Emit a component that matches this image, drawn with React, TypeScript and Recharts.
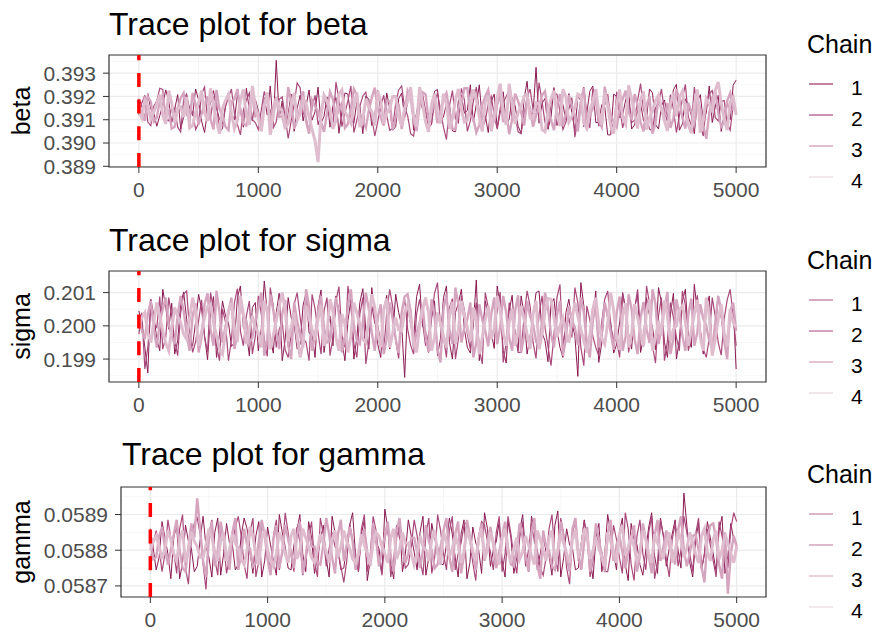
import {
  CartesianGrid,
  Line,
  LineChart,
  ReferenceArea,
  ReferenceLine,
  XAxis,
  YAxis,
} from "recharts";

// draws thinned to every 25th iteration, one array per chain
const iterStep = 25;

const xTicks = [0, 1000, 2000, 3000, 4000, 5000];
const xMinor = [500, 1500, 2500, 3500, 4500];
const chainNames = ["1", "2", "3", "4"];

const betaChain1 = [
  0.39190, 0.39160, 0.39105, 0.39212, 0.39145, 0.39130, 0.39072, 0.39118, 0.39165, 0.39228,
  0.39180, 0.39088, 0.39145, 0.39208, 0.39060, 0.39112, 0.39200, 0.39150, 0.39118, 0.39232,
  0.39185, 0.39095, 0.39045, 0.39138, 0.39170, 0.39225, 0.39150, 0.39102, 0.39082, 0.39155,
  0.39218, 0.39128, 0.39100, 0.39205, 0.39155, 0.39068, 0.39235, 0.39142, 0.39095, 0.39188,
  0.39140, 0.39058, 0.39195, 0.39120, 0.39245, 0.39075, 0.39355, 0.39110, 0.39180, 0.39062,
  0.39125, 0.39210, 0.39050, 0.39148, 0.39205, 0.39095, 0.39160, 0.39228, 0.39098, 0.39135,
  0.39240, 0.39085, 0.39115, 0.39198, 0.39068, 0.39160, 0.39195, 0.39042, 0.39135, 0.39215,
  0.39210, 0.39105, 0.39085, 0.39178, 0.39158, 0.39040, 0.39202, 0.39188, 0.39075, 0.39122,
  0.39225, 0.39140, 0.39092, 0.39215, 0.39148, 0.39055, 0.39070, 0.39190, 0.39215, 0.39108,
  0.39175, 0.39238, 0.39055, 0.39130, 0.39198, 0.39145, 0.39132, 0.39065, 0.39080, 0.39222,
  0.39230, 0.39095, 0.39112, 0.39170, 0.39168, 0.39052, 0.39048, 0.39182, 0.39205, 0.39128,
  0.39140, 0.39250, 0.39090, 0.39165, 0.39250, 0.39100, 0.39118, 0.39045, 0.39178, 0.39210,
  0.39065, 0.39150, 0.39220, 0.39082, 0.39102, 0.39195, 0.39160, 0.39072, 0.39042, 0.39188,
  0.39265, 0.39118, 0.39128, 0.39325, 0.39085, 0.39170, 0.39192, 0.39060, 0.39110, 0.39238,
  0.39075, 0.39145, 0.39165, 0.39098, 0.39212, 0.39130, 0.39052, 0.39200, 0.39182, 0.39070,
  0.39130, 0.39222, 0.39245, 0.39088, 0.39088, 0.39165, 0.39155, 0.39035, 0.39035, 0.39210,
  0.39200, 0.39108, 0.39120, 0.39185, 0.39228, 0.39060, 0.39078, 0.39140, 0.39170, 0.39095,
  0.39105, 0.39232, 0.39215, 0.39080, 0.39060, 0.39160, 0.39185, 0.39112, 0.39138, 0.39228,
  0.39252, 0.39055, 0.39082, 0.39190, 0.39162, 0.39118, 0.39040, 0.39175, 0.39208, 0.39092,
  0.39130, 0.39245, 0.39088, 0.39155, 0.39205, 0.39050, 0.39120, 0.39185, 0.39100, 0.39248,
  0.39270,
];
const betaChain2 = [
  0.39120, 0.39172, 0.39205, 0.39090, 0.39075, 0.39158, 0.39180, 0.39235, 0.39230, 0.39102,
  0.39095, 0.39148, 0.39150, 0.39068, 0.39048, 0.39188, 0.39210, 0.39125, 0.39135, 0.39058,
  0.39085, 0.39212, 0.39240, 0.39098, 0.39110, 0.39195, 0.39172, 0.39050, 0.39062, 0.39158,
  0.39195, 0.39232, 0.39128, 0.39080, 0.39035, 0.39140, 0.39185, 0.39215, 0.39100, 0.39088,
  0.39058, 0.39142, 0.39222, 0.39170, 0.39140, 0.39065, 0.39090, 0.39188, 0.39198, 0.39112,
  0.39020, 0.39095, 0.39165, 0.39258, 0.39238, 0.39130, 0.39108, 0.39045, 0.39152, 0.39205,
  0.39078, 0.39118, 0.39190, 0.39152, 0.39125, 0.39070, 0.39262, 0.39185, 0.39070, 0.39128,
  0.39182, 0.39245, 0.39045, 0.39098, 0.39158, 0.39202, 0.39218, 0.39140, 0.39112, 0.39030,
  0.39092, 0.39160, 0.39205, 0.39118, 0.39055, 0.39062, 0.39170, 0.39228, 0.39245, 0.39150,
  0.39118, 0.39040, 0.39030, 0.39122, 0.39188, 0.39210, 0.39138, 0.39100, 0.39082, 0.39172,
  0.39215, 0.39140, 0.39068, 0.39015, 0.39160, 0.39225, 0.39105, 0.39088, 0.39235, 0.39185,
  0.39050, 0.39095, 0.39178, 0.39240, 0.39132, 0.39065, 0.39095, 0.39168, 0.39202, 0.39118,
  0.39060, 0.39132, 0.39175, 0.39200, 0.39228, 0.39095, 0.39115, 0.39048, 0.39040, 0.39125,
  0.39195, 0.39232, 0.39145, 0.39110, 0.39260, 0.39180, 0.39088, 0.39062, 0.39168, 0.39215,
  0.39210, 0.39135, 0.39058, 0.39090, 0.39148, 0.39195, 0.39025, 0.39100, 0.39185, 0.39240,
  0.39122, 0.39065, 0.39232, 0.39178, 0.39072, 0.39110, 0.39165, 0.39210, 0.39105, 0.39045,
  0.39220, 0.39155, 0.39065, 0.39120, 0.39180, 0.39088, 0.39098, 0.39182, 0.39255, 0.39140,
  0.39115, 0.39060, 0.39052, 0.39150, 0.39175, 0.39232, 0.39135, 0.39092, 0.39208, 0.39145,
  0.39045, 0.39118, 0.39190, 0.39252, 0.39112, 0.39075, 0.39240, 0.39162, 0.39078, 0.39030,
  0.39158, 0.39212, 0.39225, 0.39110, 0.39095, 0.39178, 0.39182, 0.39085, 0.39055, 0.39160,
  0.39130,
];
const betaChain3 = [
  0.39160, 0.39128, 0.39095, 0.39200, 0.39178, 0.39092, 0.39110, 0.39182, 0.39205, 0.39120,
  0.39138, 0.39062, 0.39070, 0.39148, 0.39192, 0.39215, 0.39125, 0.39098, 0.39215, 0.39168,
  0.39080, 0.39125, 0.39165, 0.39200, 0.39102, 0.39058, 0.39228, 0.39145, 0.39118, 0.39070,
  0.39055, 0.39178, 0.39188, 0.39232, 0.39142, 0.39082, 0.39075, 0.39160, 0.39210, 0.39115,
  0.39128, 0.39052, 0.39168, 0.39205, 0.39088, 0.39140, 0.39198, 0.39112, 0.39115, 0.39060,
  0.39240, 0.39178, 0.39062, 0.39095, 0.39150, 0.39222, 0.39092, 0.39040, 0.39185, 0.39158,
  0.39135, 0.39090, 0.39048, 0.39130, 0.39220, 0.39188, 0.39108, 0.39145, 0.39172, 0.39065,
  0.39082, 0.39150, 0.39232, 0.39205, 0.39120, 0.39092, 0.39065, 0.39140, 0.39195, 0.39238,
  0.39145, 0.39108, 0.39075, 0.39180, 0.39180, 0.39058, 0.39112, 0.39168, 0.39060, 0.39130,
  0.39225, 0.39195, 0.39098, 0.39052, 0.39162, 0.39218, 0.39210, 0.39100, 0.39130, 0.39185,
  0.39085, 0.39140, 0.39190, 0.39215, 0.39140, 0.39062, 0.39058, 0.39152, 0.39170, 0.39235,
  0.39235, 0.39120, 0.39105, 0.39045, 0.39078, 0.39165, 0.39200, 0.39228, 0.39125, 0.39088,
  0.39165, 0.39210, 0.39090, 0.39135, 0.39038, 0.39102, 0.39212, 0.39180, 0.39132, 0.39075,
  0.39185, 0.39150, 0.39070, 0.39118, 0.39155, 0.39205, 0.39222, 0.39138, 0.39100, 0.39055,
  0.39158, 0.39210, 0.39072, 0.39128, 0.39205, 0.39160, 0.39118, 0.39050, 0.39178, 0.39235,
  0.39055, 0.39122, 0.39148, 0.39195, 0.39095, 0.39068, 0.39242, 0.39170, 0.39122, 0.39090,
  0.39068, 0.39150, 0.39188, 0.39225, 0.39135, 0.39098, 0.39210, 0.39162, 0.39088, 0.39050,
  0.39162, 0.39200, 0.39040, 0.39085, 0.39198, 0.39140, 0.39115, 0.39172, 0.39065, 0.39105,
  0.39230, 0.39188, 0.39108, 0.39062, 0.39172, 0.39135, 0.39080, 0.39192, 0.39145, 0.39075,
  0.39018, 0.39128, 0.39195, 0.39225, 0.39128, 0.39070, 0.39092, 0.39180, 0.39215, 0.39145,
  0.39150,
];
const betaChain4 = [
  0.39140, 0.39108, 0.39185, 0.39162, 0.39102, 0.39135, 0.39168, 0.39208, 0.39120, 0.39082,
  0.39225, 0.39172, 0.39088, 0.39150, 0.39155, 0.39110, 0.39198, 0.39065, 0.39075, 0.39132,
  0.39172, 0.39225, 0.39130, 0.39095, 0.39235, 0.39160, 0.39095, 0.39040, 0.39148, 0.39182,
  0.39208, 0.39128, 0.39062, 0.39098, 0.39182, 0.39230, 0.39115, 0.39078, 0.39245, 0.39160,
  0.39105, 0.39050, 0.39160, 0.39218, 0.39035, 0.39120, 0.39192, 0.39150, 0.39138, 0.39068,
  0.39082, 0.39165, 0.39215, 0.39100, 0.39125, 0.39190, 0.39170, 0.39112, 0.39058, 0.39010,
  0.38918, 0.39120, 0.39205, 0.39178, 0.39145, 0.39060, 0.39098, 0.39210, 0.39228, 0.39135,
  0.39110, 0.39085, 0.39162, 0.39218, 0.39068, 0.39102, 0.39190, 0.39155, 0.39135, 0.39075,
  0.39222, 0.39180, 0.39085, 0.39128, 0.39150, 0.39200, 0.39200, 0.39118, 0.39072, 0.39152,
  0.39178, 0.39240, 0.39118, 0.39070, 0.39240, 0.39170, 0.39092, 0.39048, 0.39165, 0.39212,
  0.39128, 0.39085, 0.39212, 0.39165, 0.39060, 0.39105, 0.39185, 0.39232, 0.39142, 0.39090,
  0.39098, 0.39160, 0.39230, 0.39188, 0.39112, 0.39050, 0.39175, 0.39205, 0.39050, 0.39120,
  0.39195, 0.39255, 0.39135, 0.39078, 0.39255, 0.39165, 0.39082, 0.39130, 0.39158, 0.39200,
  0.39210, 0.39108, 0.39105, 0.39172, 0.39168, 0.39058, 0.39048, 0.39138, 0.39188, 0.39225,
  0.39122, 0.39072, 0.39232, 0.39198, 0.39090, 0.39115, 0.39150, 0.39210, 0.39202, 0.39085,
  0.39065, 0.39142, 0.39178, 0.39232, 0.39132, 0.39080, 0.39218, 0.39160, 0.39075, 0.39040,
  0.39162, 0.39230, 0.39108, 0.39080, 0.39248, 0.39188, 0.39128, 0.39062, 0.39185, 0.39222,
  0.39058, 0.39110, 0.39140, 0.39182, 0.39205, 0.39148, 0.39095, 0.39052, 0.39170, 0.39215,
  0.39115, 0.39195, 0.39222, 0.39135, 0.39078, 0.39042, 0.39160, 0.39230, 0.39045, 0.39098,
  0.39190, 0.39165, 0.39138, 0.39225, 0.39262, 0.39172, 0.39100, 0.39055, 0.39175, 0.39198,
  0.39120,
];

const sigmaChain1 = [
  0.20045, 0.20010, 0.19935, 0.19858, 0.20080, 0.20032, 0.19960, 0.19925, 0.20110, 0.20055,
  0.19990, 0.20068, 0.19915, 0.19955, 0.20065, 0.20102, 0.20020, 0.19942, 0.19940, 0.20012,
  0.20095, 0.20050, 0.19970, 0.19898, 0.20035, 0.20088, 0.19905, 0.19975, 0.20075, 0.20030,
  0.20010, 0.19938, 0.19950, 0.20085, 0.20120, 0.19995, 0.19980, 0.19910, 0.20055, 0.20070,
  0.19925, 0.19992, 0.20135, 0.20040, 0.19965, 0.19918, 0.20040, 0.20098, 0.19895, 0.19960,
  0.20085, 0.20025, 0.20005, 0.19930, 0.19945, 0.20062, 0.20100, 0.19978, 0.19975, 0.19905,
  0.20060, 0.20108, 0.19920, 0.19985, 0.20030, 0.19940, 0.20090, 0.20045, 0.19955, 0.19895,
  0.20015, 0.20078, 0.19900, 0.19965, 0.20070, 0.20112, 0.19985, 0.19930, 0.20115, 0.20020,
  0.19945, 0.19905, 0.20050, 0.20092, 0.19930, 0.19972, 0.20095, 0.20040, 0.20000, 0.19845,
  0.20060, 0.20005, 0.19960, 0.20088, 0.20125, 0.19998, 0.19985, 0.19920, 0.20025, 0.20075,
  0.19910, 0.19962, 0.20085, 0.20120, 0.19950, 0.19900, 0.20040, 0.20068, 0.20110, 0.19990,
  0.19935, 0.19918, 0.20005, 0.20138, 0.19895, 0.19960, 0.20075, 0.20032, 0.19980, 0.19932,
  0.20120, 0.20058, 0.19925, 0.19888, 0.20045, 0.20092, 0.19965, 0.19925, 0.20090, 0.20035,
  0.19915, 0.19968, 0.20030, 0.20100, 0.20105, 0.19980, 0.19955, 0.19892, 0.20065, 0.20082,
  0.19990, 0.19935, 0.19905, 0.20040, 0.20080, 0.20010, 0.19970, 0.19848, 0.20130, 0.20060,
  0.19940, 0.19975, 0.20020, 0.20105, 0.19890, 0.19948, 0.20070, 0.20022, 0.20010, 0.19918,
  0.19945, 0.20012, 0.20100, 0.20052, 0.19975, 0.19930, 0.20055, 0.20095, 0.19920, 0.19965,
  0.20085, 0.20030, 0.19995, 0.19928, 0.20115, 0.20070, 0.19950, 0.19905, 0.20035, 0.20098,
  0.19900, 0.19958, 0.20075, 0.20110, 0.19965, 0.19935, 0.20125, 0.20042, 0.19985, 0.19915,
  0.20050, 0.20090, 0.19930, 0.19975, 0.20090, 0.20025, 0.19960, 0.19910, 0.20028, 0.20065,
  0.19870,
];
const sigmaChain2 = [
  0.19975, 0.20040, 0.19870, 0.19935, 0.20060, 0.20005, 0.19995, 0.20088, 0.19930, 0.19965,
  0.20085, 0.20030, 0.19955, 0.19910, 0.20040, 0.20095, 0.20105, 0.19985, 0.19920, 0.19952,
  0.20015, 0.20078, 0.19965, 0.19922, 0.20100, 0.20048, 0.19940, 0.19895, 0.20050, 0.20012,
  0.19895, 0.19958, 0.20070, 0.20112, 0.19985, 0.19940, 0.20030, 0.20075, 0.19915, 0.19968,
  0.20090, 0.20035, 0.19960, 0.19908, 0.20115, 0.20060, 0.19935, 0.19990, 0.20010, 0.19928,
  0.19905, 0.19975, 0.20065, 0.20100, 0.20025, 0.19962, 0.19950, 0.19895, 0.20095, 0.20052,
  0.19980, 0.19915, 0.20045, 0.20085, 0.19910, 0.19965, 0.20075, 0.20118, 0.19970, 0.19935,
  0.20120, 0.20060, 0.19945, 0.19905, 0.20035, 0.20085, 0.19885, 0.19950, 0.20060, 0.20008,
  0.20000, 0.19948, 0.19925, 0.20040, 0.20110, 0.20058, 0.19955, 0.19902, 0.20040, 0.20080,
  0.19990, 0.19942, 0.19915, 0.20035, 0.20080, 0.20012, 0.19940, 0.19975, 0.20020, 0.20098,
  0.20130, 0.19995, 0.19965, 0.19905, 0.20055, 0.20082, 0.19900, 0.19960, 0.20090, 0.20048,
  0.19975, 0.19930, 0.20015, 0.20070, 0.19930, 0.19885, 0.20100, 0.20055, 0.19960, 0.19995,
  0.20045, 0.20102, 0.19890, 0.19948, 0.20070, 0.20020, 0.19985, 0.19920, 0.19920, 0.20030,
  0.20105, 0.20060, 0.19950, 0.19902, 0.20035, 0.20090, 0.19995, 0.19938, 0.19880, 0.19972,
  0.20085, 0.20125, 0.19945, 0.19992, 0.20025, 0.19965, 0.20115, 0.20070, 0.19935, 0.19880,
  0.20060, 0.20018, 0.19970, 0.19935, 0.19910, 0.20012, 0.20080, 0.20105, 0.20000, 0.19958,
  0.19955, 0.19905, 0.20095, 0.20048, 0.19920, 0.19975, 0.20050, 0.20110, 0.19980, 0.19938,
  0.20120, 0.20068, 0.19940, 0.19888, 0.20030, 0.20085, 0.19895, 0.19955, 0.20070, 0.20025,
  0.19965, 0.19925, 0.20105, 0.20062, 0.19925, 0.19968, 0.20040, 0.20092, 0.19985, 0.19930,
  0.19905, 0.19962, 0.20085, 0.20028, 0.19950, 0.19912, 0.20020, 0.20078, 0.20110, 0.20030,
  0.19940,
];
const sigmaChain3 = [
  0.20020, 0.19985, 0.19960, 0.20035, 0.20075, 0.19990, 0.19935, 0.20010, 0.20050, 0.20085,
  0.20005, 0.19970, 0.19945, 0.20032, 0.20090, 0.20045, 0.19975, 0.19925, 0.20030, 0.20068,
  0.19920, 0.19965, 0.20065, 0.20098, 0.19990, 0.19940, 0.20105, 0.20040, 0.19950, 0.19998,
  0.20040, 0.20085, 0.19930, 0.19975, 0.20080, 0.20030, 0.20015, 0.19948, 0.19965, 0.20012,
  0.20055, 0.20100, 0.19910, 0.19960, 0.20095, 0.20048, 0.19985, 0.19930, 0.20035, 0.20078,
  0.19940, 0.19900, 0.20070, 0.20015, 0.19970, 0.19935, 0.20110, 0.20060, 0.19925, 0.19970,
  0.20045, 0.20090, 0.19995, 0.19950, 0.19955, 0.20025, 0.20085, 0.20035, 0.19920, 0.19968,
  0.20060, 0.20110, 0.20000, 0.19955, 0.19945, 0.20012, 0.20100, 0.20050, 0.19980, 0.19925,
  0.20025, 0.20065, 0.19915, 0.19962, 0.20070, 0.20020, 0.19960, 0.19918, 0.20040, 0.20088,
  0.20095, 0.20045, 0.19935, 0.19978, 0.20010, 0.20062, 0.19970, 0.19922, 0.20080, 0.20030,
  0.19930, 0.19890, 0.20050, 0.20095, 0.19990, 0.19945, 0.20115, 0.20065, 0.19950, 0.19995,
  0.20020, 0.20070, 0.19905, 0.19950, 0.20065, 0.20018, 0.19985, 0.19938, 0.20035, 0.20085,
  0.19945, 0.19998, 0.20090, 0.20040, 0.19965, 0.19925, 0.20045, 0.20092, 0.19920, 0.19970,
  0.20075, 0.20028, 0.20005, 0.19952, 0.19940, 0.20010, 0.20100, 0.20055, 0.19975, 0.19935,
  0.20030, 0.20075, 0.19910, 0.19960, 0.20060, 0.20018, 0.19995, 0.19942, 0.20085, 0.20040,
  0.19950, 0.19905, 0.20015, 0.20060, 0.19935, 0.19975, 0.20070, 0.20030, 0.19980, 0.19928,
  0.20040, 0.20088, 0.19925, 0.19968, 0.20095, 0.20050, 0.19960, 0.19915, 0.20025, 0.20072,
  0.19990, 0.19948, 0.20110, 0.20065, 0.19945, 0.19990, 0.20055, 0.20102, 0.19915, 0.19960,
  0.20080, 0.20035, 0.19970, 0.19925, 0.20035, 0.20082, 0.19940, 0.19980, 0.20065, 0.20022,
  0.20000, 0.19955, 0.19930, 0.20010, 0.20090, 0.20048, 0.19955, 0.19900, 0.20045, 0.20070,
  0.19985,
];
const sigmaChain4 = [
  0.19995, 0.20025, 0.20040, 0.19978, 0.19950, 0.20012, 0.20070, 0.20028, 0.19985, 0.19948,
  0.19925, 0.19990, 0.20055, 0.20030, 0.20010, 0.19975, 0.19960, 0.20022, 0.20085, 0.20040,
  0.19940, 0.19982, 0.20025, 0.20058, 0.20065, 0.20010, 0.19970, 0.19930, 0.19915, 0.19980,
  0.20045, 0.20068, 0.19995, 0.19952, 0.20090, 0.20035, 0.19945, 0.19988, 0.20030, 0.19995,
  0.19980, 0.19935, 0.20075, 0.20042, 0.19930, 0.19970, 0.20015, 0.20060, 0.20100, 0.20048,
  0.19955, 0.19995, 0.20040, 0.19968, 0.19905, 0.19948, 0.20060, 0.20025, 0.19990, 0.19958,
  0.20020, 0.20062, 0.19940, 0.19975, 0.20080, 0.20042, 0.19965, 0.19925, 0.20035, 0.20005,
  0.19920, 0.19968, 0.20070, 0.20038, 0.20005, 0.19960, 0.19950, 0.20020, 0.20095, 0.20055,
  0.19975, 0.19935, 0.20050, 0.20082, 0.19935, 0.19978, 0.20025, 0.19988, 0.19985, 0.20042,
  0.20065, 0.20018, 0.19955, 0.19920, 0.20000, 0.20048, 0.20085, 0.20040, 0.19925, 0.19965,
  0.20040, 0.20008, 0.19970, 0.19935, 0.20030, 0.20072, 0.19945, 0.19990, 0.20075, 0.20030,
  0.19995, 0.19955, 0.20055, 0.20010, 0.19915, 0.19965, 0.20020, 0.20060, 0.19960, 0.19990,
  0.20090, 0.20045, 0.19980, 0.19940, 0.20010, 0.20052, 0.19940, 0.19982, 0.20060, 0.20020,
  0.19975, 0.19930, 0.20035, 0.20075, 0.19930, 0.19972, 0.20045, 0.20082, 0.20080, 0.20025,
  0.19965, 0.20000, 0.20025, 0.19980, 0.19950, 0.20015, 0.20070, 0.20028, 0.19990, 0.19955,
  0.19920, 0.19972, 0.20050, 0.20085, 0.20005, 0.19962, 0.19945, 0.20008, 0.20100, 0.20045,
  0.19970, 0.19928, 0.20030, 0.20068, 0.19935, 0.19975, 0.20065, 0.20025, 0.19985, 0.19940,
  0.20045, 0.20078, 0.19925, 0.19965, 0.20015, 0.19970, 0.20075, 0.20030, 0.19955, 0.19990,
  0.20000, 0.20048, 0.20060, 0.20012, 0.19940, 0.19985, 0.20035, 0.20078, 0.19965, 0.19925,
  0.20085, 0.20032, 0.19910, 0.19958, 0.20020, 0.20065, 0.19980, 0.19938, 0.20050, 0.20010,
  0.19995,
];

const gammaChain1 = [
  0.058860, 0.058805, 0.058745, 0.058780, 0.058880, 0.058835, 0.058790, 0.058720, 0.058835, 0.058870,
  0.058720, 0.058765, 0.058870, 0.058825, 0.058805, 0.058740, 0.058755, 0.058830, 0.058895, 0.058810,
  0.058780, 0.058725, 0.058850, 0.058890, 0.058730, 0.058790, 0.058875, 0.058820, 0.058815, 0.058745,
  0.058760, 0.058840, 0.058890, 0.058860, 0.058795, 0.058735, 0.058840, 0.058880, 0.058725, 0.058770,
  0.058865, 0.058815, 0.058770, 0.058730, 0.058900, 0.058850, 0.058810, 0.058750, 0.058745, 0.058815,
  0.058855, 0.058900, 0.058790, 0.058740, 0.058880, 0.058835, 0.058735, 0.058780, 0.058830, 0.058870,
  0.058775, 0.058725, 0.058895, 0.058850, 0.058800, 0.058745, 0.058750, 0.058820, 0.058870, 0.058905,
  0.058785, 0.058740, 0.058845, 0.058885, 0.058715, 0.058770, 0.058860, 0.058820, 0.058805, 0.058735,
  0.058915, 0.058860, 0.058765, 0.058720, 0.058835, 0.058875, 0.058740, 0.058790, 0.058885, 0.058840,
  0.058795, 0.058745, 0.058850, 0.058895, 0.058730, 0.058780, 0.058875, 0.058830, 0.058810, 0.058760,
  0.058760, 0.058815, 0.058890, 0.058845, 0.058780, 0.058725, 0.058845, 0.058885, 0.058720, 0.058765,
  0.058865, 0.058820, 0.058800, 0.058735, 0.058905, 0.058860, 0.058755, 0.058800, 0.058825, 0.058880,
  0.058770, 0.058725, 0.058880, 0.058835, 0.058735, 0.058780, 0.058855, 0.058900, 0.058790, 0.058740,
  0.058895, 0.058855, 0.058745, 0.058790, 0.058840, 0.058795, 0.058785, 0.058730, 0.058870, 0.058910,
  0.058725, 0.058780, 0.058860, 0.058815, 0.058805, 0.058745, 0.058750, 0.058820, 0.058885, 0.058835,
  0.058775, 0.058720, 0.058835, 0.058875, 0.058740, 0.058790, 0.058900, 0.058850, 0.058795, 0.058745,
  0.058850, 0.058890, 0.058760, 0.058715, 0.058875, 0.058830, 0.058815, 0.058760, 0.058730, 0.058800,
  0.058865, 0.058905, 0.058785, 0.058735, 0.058890, 0.058840, 0.058755, 0.058805, 0.058845, 0.058885,
  0.058800, 0.058750, 0.058960, 0.058870, 0.058765, 0.058725, 0.058830, 0.058875, 0.058745, 0.058790,
  0.058880, 0.058835, 0.058790, 0.058740, 0.058855, 0.058895, 0.058735, 0.058785, 0.058875, 0.058830,
  0.058820,
];
const gammaChain2 = [
  0.058770, 0.058820, 0.058855, 0.058805, 0.058740, 0.058790, 0.058885, 0.058835, 0.058795, 0.058735,
  0.058860, 0.058900, 0.058750, 0.058705, 0.058830, 0.058875, 0.058890, 0.058845, 0.058760, 0.058690,
  0.058845, 0.058885, 0.058775, 0.058730, 0.058870, 0.058825, 0.058735, 0.058780, 0.058820, 0.058865,
  0.058895, 0.058840, 0.058760, 0.058720, 0.058850, 0.058890, 0.058725, 0.058770, 0.058880, 0.058835,
  0.058790, 0.058745, 0.058840, 0.058885, 0.058745, 0.058795, 0.058905, 0.058850, 0.058785, 0.058740,
  0.058865, 0.058825, 0.058730, 0.058775, 0.058835, 0.058880, 0.058770, 0.058725, 0.058890, 0.058845,
  0.058755, 0.058805, 0.058850, 0.058810, 0.058800, 0.058755, 0.058710, 0.058770, 0.058875, 0.058830,
  0.058790, 0.058740, 0.058860, 0.058900, 0.058740, 0.058785, 0.058895, 0.058855, 0.058780, 0.058730,
  0.058830, 0.058875, 0.058725, 0.058770, 0.058870, 0.058835, 0.058805, 0.058750, 0.058760, 0.058810,
  0.058885, 0.058840, 0.058775, 0.058730, 0.058845, 0.058890, 0.058735, 0.058780, 0.058900, 0.058855,
  0.058790, 0.058745, 0.058855, 0.058895, 0.058745, 0.058790, 0.058820, 0.058870, 0.058880, 0.058825,
  0.058765, 0.058715, 0.058840, 0.058880, 0.058870, 0.058825, 0.058795, 0.058745, 0.058850, 0.058895,
  0.058740, 0.058790, 0.058895, 0.058845, 0.058780, 0.058735, 0.058835, 0.058880, 0.058755, 0.058800,
  0.058875, 0.058825, 0.058800, 0.058750, 0.058730, 0.058780, 0.058860, 0.058900, 0.058785, 0.058740,
  0.058890, 0.058845, 0.058750, 0.058705, 0.058845, 0.058885, 0.058770, 0.058815, 0.058880, 0.058835,
  0.058725, 0.058770, 0.058855, 0.058810, 0.058795, 0.058740, 0.058740, 0.058790, 0.058870, 0.058830,
  0.058780, 0.058735, 0.058905, 0.058860, 0.058760, 0.058715, 0.058840, 0.058885, 0.058790, 0.058745,
  0.058850, 0.058895, 0.058720, 0.058765, 0.058885, 0.058840, 0.058775, 0.058725, 0.058830, 0.058875,
  0.058755, 0.058800, 0.058895, 0.058850, 0.058790, 0.058740, 0.058845, 0.058890, 0.058745, 0.058790,
  0.058860, 0.058815, 0.058770, 0.058725, 0.058880, 0.058840, 0.058800, 0.058750, 0.058860, 0.058905,
  0.058880,
];
const gammaChain3 = [
  0.058820, 0.058775, 0.058780, 0.058840, 0.058865, 0.058805, 0.058760, 0.058800, 0.058845, 0.058885,
  0.058800, 0.058750, 0.058740, 0.058810, 0.058875, 0.058835, 0.058945, 0.058860, 0.058770, 0.058725,
  0.058835, 0.058880, 0.058755, 0.058800, 0.058880, 0.058830, 0.058790, 0.058745, 0.058850, 0.058890,
  0.058745, 0.058790, 0.058860, 0.058815, 0.058805, 0.058755, 0.058765, 0.058825, 0.058885, 0.058840,
  0.058775, 0.058730, 0.058830, 0.058870, 0.058750, 0.058795, 0.058870, 0.058830, 0.058795, 0.058750,
  0.058840, 0.058880, 0.058735, 0.058780, 0.058855, 0.058810, 0.058810, 0.058765, 0.058760, 0.058815,
  0.058890, 0.058845, 0.058780, 0.058735, 0.058845, 0.058885, 0.058770, 0.058815, 0.058865, 0.058825,
  0.058745, 0.058790, 0.058825, 0.058860, 0.058795, 0.058755, 0.058875, 0.058830, 0.058755, 0.058800,
  0.058840, 0.058880, 0.058785, 0.058740, 0.058850, 0.058890, 0.058810, 0.058765, 0.058790, 0.058835,
  0.058835, 0.058795, 0.058750, 0.058800, 0.058870, 0.058825, 0.058800, 0.058750, 0.058760, 0.058810,
  0.058855, 0.058890, 0.058780, 0.058740, 0.058845, 0.058880, 0.058735, 0.058785, 0.058885, 0.058840,
  0.058795, 0.058745, 0.058830, 0.058875, 0.058770, 0.058820, 0.058865, 0.058815, 0.058750, 0.058795,
  0.058840, 0.058880, 0.058805, 0.058760, 0.058755, 0.058805, 0.058875, 0.058835, 0.058785, 0.058740,
  0.058850, 0.058890, 0.058760, 0.058720, 0.058855, 0.058810, 0.058800, 0.058755, 0.058745, 0.058800,
  0.058880, 0.058835, 0.058780, 0.058740, 0.058860, 0.058890, 0.058790, 0.058745, 0.058825, 0.058865,
  0.058740, 0.058790, 0.058875, 0.058830, 0.058785, 0.058740, 0.058845, 0.058885, 0.058770, 0.058815,
  0.058840, 0.058795, 0.058750, 0.058795, 0.058825, 0.058870, 0.058740, 0.058785, 0.058875, 0.058830,
  0.058785, 0.058735, 0.058840, 0.058885, 0.058770, 0.058810, 0.058855, 0.058810, 0.058800, 0.058760,
  0.058855, 0.058895, 0.058800, 0.058755, 0.058790, 0.058840, 0.058845, 0.058800, 0.058755, 0.058710,
  0.058830, 0.058870, 0.058875, 0.058830, 0.058760, 0.058720, 0.058850, 0.058678, 0.058790, 0.058840,
  0.058810,
];
const gammaChain4 = [
  0.058800, 0.058825, 0.058840, 0.058810, 0.058775, 0.058805, 0.058855, 0.058830, 0.058790, 0.058770,
  0.058830, 0.058855, 0.058765, 0.058795, 0.058850, 0.058825, 0.058810, 0.058780, 0.058780, 0.058815,
  0.058860, 0.058835, 0.058795, 0.058770, 0.058825, 0.058850, 0.058770, 0.058800, 0.058845, 0.058820,
  0.058805, 0.058775, 0.058760, 0.058800, 0.058865, 0.058840, 0.058785, 0.058760, 0.058835, 0.058850,
  0.058800, 0.058770, 0.058755, 0.058790, 0.058850, 0.058825, 0.058790, 0.058765, 0.058840, 0.058860,
  0.058775, 0.058800, 0.058860, 0.058835, 0.058810, 0.058780, 0.058765, 0.058800, 0.058845, 0.058820,
  0.058795, 0.058765, 0.058830, 0.058855, 0.058780, 0.058810, 0.058855, 0.058825, 0.058805, 0.058775,
  0.058765, 0.058790, 0.058845, 0.058815, 0.058790, 0.058760, 0.058820, 0.058850, 0.058840, 0.058810,
  0.058790, 0.058765, 0.058835, 0.058860, 0.058775, 0.058800, 0.058850, 0.058820, 0.058820, 0.058790,
  0.058760, 0.058790, 0.058840, 0.058810, 0.058800, 0.058770, 0.058830, 0.058855, 0.058790, 0.058760,
  0.058850, 0.058825, 0.058780, 0.058805, 0.058840, 0.058815, 0.058765, 0.058795, 0.058860, 0.058830,
  0.058795, 0.058770, 0.058835, 0.058860, 0.058775, 0.058800, 0.058850, 0.058825, 0.058790, 0.058760,
  0.058835, 0.058860, 0.058795, 0.058765, 0.058805, 0.058835, 0.058775, 0.058795, 0.058840, 0.058815,
  0.058785, 0.058760, 0.058855, 0.058830, 0.058800, 0.058770, 0.058835, 0.058855, 0.058770, 0.058795,
  0.058845, 0.058820, 0.058790, 0.058765, 0.058830, 0.058855, 0.058785, 0.058805, 0.058860, 0.058835,
  0.058775, 0.058800, 0.058830, 0.058805, 0.058780, 0.058755, 0.058850, 0.058825, 0.058795, 0.058765,
  0.058845, 0.058870, 0.058785, 0.058810, 0.058835, 0.058810, 0.058770, 0.058790, 0.058855, 0.058830,
  0.058790, 0.058765, 0.058845, 0.058820, 0.058800, 0.058775, 0.058825, 0.058850, 0.058765, 0.058790,
  0.058855, 0.058830, 0.058780, 0.058805, 0.058850, 0.058820, 0.058790, 0.058765, 0.058840, 0.058860,
  0.058795, 0.058770, 0.058830, 0.058855, 0.058775, 0.058800, 0.058845, 0.058820, 0.058790, 0.058765,
  0.058810,
];

const betaTicks = [0.389, 0.39, 0.391, 0.392, 0.393];
const betaMinor = [0.3895, 0.3905, 0.3915, 0.3925, 0.3935];
const sigmaTicks = [0.199, 0.2, 0.201];
const sigmaMinor = [0.1985, 0.1995, 0.2005, 0.2015];
const gammaTicks = [0.0587, 0.0588, 0.0589];
const gammaMinor = [0.05875, 0.05885, 0.05895];

// dark chains thin, light chains wider so they fill the band like the dense original
const lineColors = ["#8a1a52", "#a9497b", "#d5a5bf", "#dfbdce"];
const lineWidths = [1, 1.2, 2.4, 3];

const W = 879;
const H = 633;
const FONT = "'Liberation Sans', Arial, sans-serif";

type PanelProps = {
  title: string;
  param: string;
  chains: number[][];
  yDomain: [number, number];
  yTicks: number[];
  yMinor: number[];
  digits: number;
  legendColors: string[];
  plotLeft: number;
  plotTop: number;
  plotBottom: number;
  titleX: number;
  titleY: number;
  legendY: number;
};

function buildRows(chains: number[][]) {
  return chains[0].map((_, i) => ({
    iter: i * iterStep,
    c1: chains[0][i],
    c2: chains[1][i],
    c3: chains[2][i],
    c4: chains[3][i],
  }));
}

function TracePanel(p: PanelProps) {
  const rows = buildRows(p.chains);
  const plotRight = 766;
  const xAxisH = 40;
  const tickStyle = { fill: "#4d4d4d", fontSize: 21, fontFamily: FONT };
  const midY = (p.plotTop + p.plotBottom) / 2;
  return (
    <>
      <div style={{ position: "absolute", left: 0, top: 0 }}>
        <LineChart
          width={W}
          height={H}
          data={rows}
          margin={{ top: p.plotTop, right: W - plotRight, left: 0, bottom: H - p.plotBottom - xAxisH }}
        >
          <CartesianGrid
            stroke="#f2f2f2"
            strokeWidth={0.6}
            horizontalValues={p.yMinor}
            verticalValues={xMinor}
          />
          <CartesianGrid
            stroke="#ebebeb"
            strokeWidth={1.2}
            horizontalValues={p.yTicks}
            verticalValues={xTicks}
          />
          <XAxis
            dataKey="iter"
            type="number"
            domain={[-250, 5250]}
            ticks={xTicks}
            interval={0}
            allowDataOverflow
            height={xAxisH}
            tickSize={6}
            tickMargin={9}
            axisLine={false}
            tickLine={{ stroke: "#333333" }}
            tick={tickStyle}
          />
          <YAxis
            type="number"
            domain={p.yDomain}
            ticks={p.yTicks}
            interval={0}
            allowDataOverflow
            width={p.plotLeft}
            tickSize={6}
            tickMargin={7}
            axisLine={false}
            tickLine={{ stroke: "#333333" }}
            tick={tickStyle}
            tickFormatter={(v: number) => v.toFixed(p.digits)}
          />
          {["c1", "c2", "c3", "c4"].map((k, i) => (
            <Line
              key={k}
              dataKey={k}
              type="linear"
              stroke={lineColors[i]}
              strokeWidth={lineWidths[i]}
              strokeLinejoin="miter"
              dot={false}
              activeDot={false}
              isAnimationActive={false}
            />
          ))}
          <ReferenceLine x={0} stroke="#ff0000" strokeWidth={3.5} strokeDasharray="14 12.7" />
          <ReferenceArea
            x1={-250}
            x2={5250}
            y1={p.yDomain[0]}
            y2={p.yDomain[1]}
            fill="none"
            fillOpacity={0}
            stroke="#333333"
            strokeWidth={1.2}
          />
        </LineChart>
      </div>
      <svg
        width={W}
        height={H}
        style={{ position: "absolute", left: 0, top: 0, pointerEvents: "none" }}
        fontFamily={FONT}
      >
        <text x={p.titleX} y={p.titleY} fontSize={32} fill="#000">
          {p.title}
        </text>
        <text
          x={30}
          y={midY}
          fontSize={25}
          fill="#000"
          textAnchor="middle"
          transform={`rotate(-90 30 ${midY})`}
        >
          {p.param}
        </text>
        <text x={807} y={p.legendY} fontSize={25} fill="#000">
          Chain
        </text>
        {chainNames.map((name, i) => {
          const y = p.legendY + 31 + i * 31;
          return (
            <g key={name}>
              <line x1={809} x2={833} y1={y} y2={y} stroke={p.legendColors[i]} strokeWidth={1.3} />
              <text x={851} y={y + 10.5} fontSize={21} fill="#000">
                {name}
              </text>
            </g>
          );
        })}
      </svg>
    </>
  );
}

export default function App() {
  return (
    <div
      style={{
        position: "absolute",
        left: 0,
        top: 0,
        width: W,
        height: H,
        background: "#ffffff",
        fontFamily: FONT,
        overflow: "hidden",
      }}
    >
      <TracePanel
        title="Trace plot for beta"
        param="beta"
        chains={[betaChain1, betaChain2, betaChain3, betaChain4]}
        yDomain={[0.38897, 0.39378]}
        yTicks={betaTicks}
        yMinor={betaMinor}
        digits={3}
        legendColors={["#a33d72", "#b0588a", "#d39bba", "#eedce5"]}
        plotLeft={109}
        plotTop={55}
        plotBottom={167}
        titleX={109}
        titleY={35}
        legendY={53}
      />
      <TracePanel
        title="Trace plot for sigma"
        param="sigma"
        chains={[sigmaChain1, sigmaChain2, sigmaChain3, sigmaChain4]}
        yDomain={[0.19831, 0.20165]}
        yTicks={sigmaTicks}
        yMinor={sigmaMinor}
        digits={3}
        legendColors={["#c57aa2", "#c06e9a", "#d8a4be", "#ead6e0"]}
        plotLeft={109}
        plotTop={271}
        plotBottom={382}
        titleX={109}
        titleY={251}
        legendY={269}
      />
      <TracePanel
        title="Trace plot for gamma"
        param="gamma"
        chains={[gammaChain1, gammaChain2, gammaChain3, gammaChain4]}
        yDomain={[0.058669, 0.058977]}
        yTicks={gammaTicks}
        yMinor={gammaMinor}
        digits={4}
        legendColors={["#c98daa", "#cc94b0", "#ddb8c9", "#eedbe4"]}
        plotLeft={121}
        plotTop={487}
        plotBottom={597}
        titleX={122}
        titleY={465}
        legendY={483}
      />
    </div>
  );
}
